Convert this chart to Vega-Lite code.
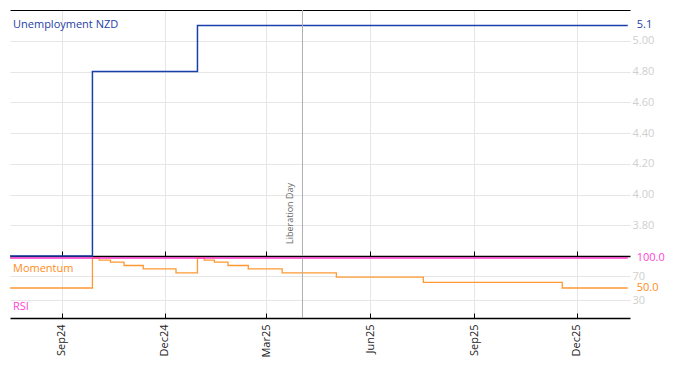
{
  "$schema": "https://vega.github.io/schema/vega-lite/v6.json",
  "padding": {"left": 7, "top": 9, "right": 0, "bottom": 0},
  "background": "white",
  "spacing": 2,
  "bounds": "flush",
  "config": {
    "font": "Open Sans",
    "view": {"stroke": null},
    "axis": {"gridColor": "#e6e6e6", "domainColor": "#000000", "tickColor": "#000000", "title": null}
  },
  "datasets": {
    "unemp": [
      {"date": "2024-07-17", "value": 3.6},
      {"date": "2024-09-28", "value": 4.8},
      {"date": "2024-12-30", "value": 5.1},
      {"date": "2026-01-15", "value": 5.1}
    ],
    "mom": [
      {"date": "2024-07-17", "value": 50},
      {"date": "2024-09-28", "value": 100},
      {"date": "2024-10-04", "value": 96.3},
      {"date": "2024-10-14", "value": 93},
      {"date": "2024-10-26", "value": 87.5},
      {"date": "2024-11-12", "value": 81.8},
      {"date": "2024-12-11", "value": 75.1},
      {"date": "2024-12-30", "value": 100},
      {"date": "2025-01-05", "value": 96.3},
      {"date": "2025-01-14", "value": 93},
      {"date": "2025-01-26", "value": 87.5},
      {"date": "2025-02-13", "value": 81.8},
      {"date": "2025-03-15", "value": 75.1},
      {"date": "2025-05-02", "value": 68.1},
      {"date": "2025-07-18", "value": 59.5},
      {"date": "2025-11-18", "value": 50},
      {"date": "2026-01-15", "value": 50}
    ],
    "rsi": [
      {"date": "2024-07-17", "value": 100},
      {"date": "2026-01-15", "value": 100}
    ],
    "events": [
      {"date": "2025-04-02", "label": "Liberation Day"}
    ],
    "panels": [
      {"panel": "Unemployment NZD"},
      {"panel": "Momentum"},
      {"panel": "RSI"}
    ]
  },
  "vconcat": [
    {
      "width": 620,
      "height": 246,
      "resolve": {"axis": {"x": "independent"}},
      "layer": [
        {
          "data": {"name": "unemp"},
          "mark": {"type": "line", "interpolate": "step-after", "color": "#1b3faa", "strokeWidth": 1.5},
          "encoding": {
            "x": {
              "field": "date", "type": "temporal",
              "scale": {"type": "utc", "domain": [{"year": 2024, "month": 7, "date": 17, "utc": true}, {"year": 2026, "month": 1, "date": 17, "utc": true}]},
              "axis": {
                "orient": "bottom", "labels": false, "tickSize": -5, "grid": true, "domainWidth": 1.5,
                "values": [
                  {"year": 2024, "month": 9, "date": 1, "utc": true},
                  {"year": 2024, "month": 12, "date": 1, "utc": true},
                  {"year": 2025, "month": 3, "date": 1, "utc": true},
                  {"year": 2025, "month": 6, "date": 1, "utc": true},
                  {"year": 2025, "month": 9, "date": 1, "utc": true},
                  {"year": 2025, "month": 12, "date": 1, "utc": true}
                ]
              }
            },
            "y": {
              "field": "value", "type": "quantitative",
              "scale": {"domain": [3.6, 5.2], "zero": false, "nice": false},
              "axis": {"orient": "right", "values": [3.8, 4.0, 4.2, 4.4, 4.6, 4.8, 5.0], "format": ".2f", "ticks": false, "domain": false, "labelColor": "#cfcfcf", "labelFontSize": 11, "labelPadding": 2}
            }
          }
        },
        {
          "data": {"name": "events"},
          "mark": {"type": "rule", "color": "#b0b0b0", "strokeWidth": 1},
          "encoding": {
            "x": {"field": "date", "type": "temporal", "axis": {"orient": "top", "labels": false, "ticks": false, "grid": false, "domainWidth": 1.2}}
          }
        },
        {
          "data": {"name": "events"},
          "mark": {"type": "text", "angle": 270, "align": "left", "baseline": "bottom", "dx": 12, "dy": -7, "fontSize": 9, "color": "#666666"},
          "encoding": {
            "x": {"field": "date", "type": "temporal", "axis": null},
            "y": {"datum": 3.6},
            "text": {"field": "label"}
          }
        },
        {
          "data": {"name": "unemp"},
          "transform": [{"aggregate": [{"op": "argmax", "field": "date", "as": "last"}]}],
          "mark": {"type": "text", "align": "left", "baseline": "middle", "dx": 9, "fontSize": 11, "color": "#1b3faa"},
          "encoding": {
            "x": {"field": "last.date", "type": "temporal", "axis": null},
            "y": {"field": "last.value", "type": "quantitative"},
            "text": {"field": "last.value", "type": "quantitative", "format": ".1f"}
          }
        },
        {
          "data": {"name": "panels"},
          "transform": [{"filter": "datum.panel == 'Unemployment NZD'"}],
          "mark": {"type": "text", "align": "left", "baseline": "middle", "dx": 3, "fontSize": 11, "color": "#1e40a8"},
          "encoding": {
            "x": {"datum": {"year": 2024, "month": 7, "date": 17, "utc": true}, "type": "temporal", "axis": null},
            "y": {"datum": 5.1},
            "text": {"field": "panel"}
          }
        }
      ]
    },
    {
      "width": 620,
      "height": 60,
      "layer": [
        {
          "data": {"name": "mom"},
          "mark": {"type": "line", "interpolate": "step-after", "color": "#ff9933", "strokeWidth": 1.3},
          "encoding": {
            "x": {
              "field": "date", "type": "temporal",
              "scale": {"type": "utc", "domain": [{"year": 2024, "month": 7, "date": 17, "utc": true}, {"year": 2026, "month": 1, "date": 17, "utc": true}]},
              "axis": {
                "orient": "bottom", "format": "%b%y", "labelAngle": 270, "labelFontSize": 11, "labelColor": "#222222", "labelPadding": 11,
                "tickSize": -5, "grid": true, "domainWidth": 1.5,
                "values": [
                  {"year": 2024, "month": 9, "date": 1, "utc": true},
                  {"year": 2024, "month": 12, "date": 1, "utc": true},
                  {"year": 2025, "month": 3, "date": 1, "utc": true},
                  {"year": 2025, "month": 6, "date": 1, "utc": true},
                  {"year": 2025, "month": 9, "date": 1, "utc": true},
                  {"year": 2025, "month": 12, "date": 1, "utc": true}
                ]
              }
            },
            "y": {
              "field": "value", "type": "quantitative",
              "scale": {"domain": [0, 100], "nice": false},
              "axis": {"orient": "right", "values": [30, 70], "format": "d", "ticks": false, "domain": false, "labelColor": "#cfcfcf", "labelFontSize": 11, "labelPadding": 2}
            }
          }
        },
        {
          "data": {"name": "rsi"},
          "mark": {"type": "line", "interpolate": "step-after", "color": "#ff33cc", "strokeWidth": 1.5},
          "encoding": {
            "x": {"field": "date", "type": "temporal"},
            "y": {"field": "value", "type": "quantitative"}
          }
        },
        {
          "data": {"name": "events"},
          "mark": {"type": "rule", "color": "#b0b0b0", "strokeWidth": 1},
          "encoding": {
            "x": {"field": "date", "type": "temporal"}
          }
        },
        {
          "data": {"name": "mom"},
          "transform": [{"aggregate": [{"op": "argmax", "field": "date", "as": "last"}]}],
          "mark": {"type": "text", "align": "left", "baseline": "middle", "dx": 9, "fontSize": 11, "color": "#ff8c1a"},
          "encoding": {
            "x": {"field": "last.date", "type": "temporal"},
            "y": {"field": "last.value", "type": "quantitative"},
            "text": {"field": "last.value", "type": "quantitative", "format": ".1f"}
          }
        },
        {
          "data": {"name": "rsi"},
          "transform": [{"aggregate": [{"op": "argmax", "field": "date", "as": "last"}]}],
          "mark": {"type": "text", "align": "left", "baseline": "middle", "dx": 9, "fontSize": 11, "color": "#ff44d4"},
          "encoding": {
            "x": {"field": "last.date", "type": "temporal"},
            "y": {"field": "last.value", "type": "quantitative"},
            "text": {"field": "last.value", "type": "quantitative", "format": ".1f"}
          }
        },
        {
          "data": {"name": "panels"},
          "transform": [{"filter": "datum.panel == 'Momentum'"}],
          "mark": {"type": "text", "align": "left", "baseline": "middle", "dx": 3, "fontSize": 11, "color": "#ff8c1a"},
          "encoding": {
            "x": {"datum": {"year": 2024, "month": 7, "date": 17, "utc": true}, "type": "temporal"},
            "y": {"datum": 81},
            "text": {"field": "panel"}
          }
        },
        {
          "data": {"name": "panels"},
          "transform": [{"filter": "datum.panel == 'RSI'"}],
          "mark": {"type": "text", "align": "left", "baseline": "middle", "dx": 3, "fontSize": 11, "color": "#ff44d4"},
          "encoding": {
            "x": {"datum": {"year": 2024, "month": 7, "date": 17, "utc": true}, "type": "temporal"},
            "y": {"datum": 18},
            "text": {"field": "panel"}
          }
        }
      ]
    }
  ]
}
